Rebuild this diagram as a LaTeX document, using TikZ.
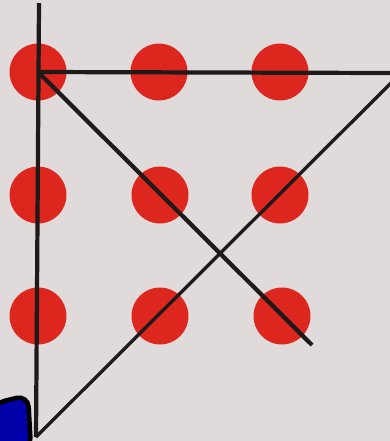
\documentclass[tikz,border=0pt]{standalone}
\usepackage{tikz}

\definecolor{bgGray}{RGB}{224,219,218}
\definecolor{dotRed}{RGB}{220,38,30}
\definecolor{penBlack}{RGB}{30,26,26}
\definecolor{boxBlue}{RGB}{0,0,168}

\tikzset{
  dot/.style={circle, fill=dotRed, draw=none, inner sep=0pt, minimum size=1.14cm},
  pen/.style={penBlack, line width=2.4pt},
  thinpen/.style={penBlack, line width=1.9pt}
}

\begin{document}
\begin{tikzpicture}[x=0.02cm, y=-0.02cm]

    % 1. Background of the page (fixes the margins)
    \fill[bgGray] (0,0) rectangle (390,441);
    \useasboundingbox (0,0) rectangle (390,441);

    % 2. The nine dots (3 x 3 grid)
    \node[dot] (d11) at (38,72) {};
    \node[dot] (d12) at (159,72) {};
    \node[dot] (d13) at (280,72) {};
    \node[dot] (d21) at (38,195) {};
    \node[dot] (d22) at (160,195) {};
    \node[dot] (d23) at (280,195) {};
    \node[dot] (d31) at (38,316) {};
    \node[dot] (d32) at (160,316) {};
    \node[dot] (d33) at (282,316) {};

    % 3. Free ends of the four strokes
    \coordinate (top) at (39,3);
    \coordinate (corner) at (36,437);
    \coordinate (rightA) at (392,73);
    \coordinate (rightB) at (392,82);
    \coordinate (tail) at (312,345);

    % 4. The four strokes
    \draw[pen] (top) -- (corner);
    \draw[pen] (d11.center) -- (rightA);
    \draw[pen] (d11.center) -- (tail);
    \draw[thinpen] (corner) -- (rightB);

    % 5. Blue box cut off at the lower left
    \draw[fill=boxBlue, draw=black, line width=2.6pt, rounded corners=7pt]
      (-8,404) -- (28,395) -- (31,450) -- (-8,450) -- cycle;

  \end{tikzpicture}
\end{document}
